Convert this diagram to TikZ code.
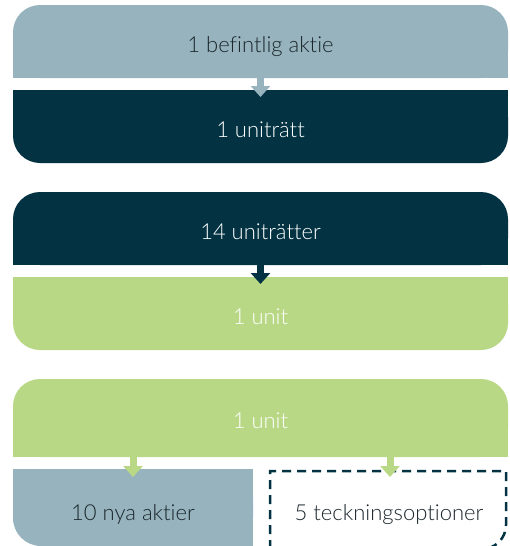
\documentclass[tikz,border=0pt]{standalone}
\usepackage{fontspec}
\IfFontExistsTF{Lato Light}{\setmainfont{Lato Light}[Ligatures=NoCommon]}{\setmainfont{Lato}[Ligatures=NoCommon]}
\usetikzlibrary{arrows.meta}
\definecolor{lb}{HTML}{97B3BE}
\definecolor{dk}{HTML}{033343}
\definecolor{gr}{HTML}{B9D885}
\definecolor{tx}{HTML}{1A262B}
\begin{document}
\begin{tikzpicture}[x=1pt,y=-1pt,
  box/.style={inner sep=0pt,outer sep=0pt,minimum height=73pt},
  lbl/.style={inner sep=0pt,anchor=base,font=\fontsize{22}{25}\selectfont},
  arr/.style={line width=7pt,-{Triangle[width=19pt,length=11pt]}},
  dashbox/.style={dk,line width=2.5pt,dash pattern=on 9pt off 6pt}]
\clip (0,0) rectangle (509,546);
% box nodes (geometry)
\node[box,minimum width=495pt] (b1) at (260.5,41.5) {};
\node[box,minimum width=495pt] (b2) at (260.5,126.5) {};
\node[box,minimum width=495pt] (b3) at (260.5,228.5) {};
\node[box,minimum width=495pt] (b4) at (260.5,313.5) {};
\node[box,minimum width=495pt,minimum height=78pt] (b5) at (260.5,418) {};
\node[box,minimum width=240pt,minimum height=77pt] (b6) at (133,507.5) {};
\node[box,minimum width=236pt,minimum height=78pt] (b7) at (388,510) {};
% fills
\fill[lb,rounded corners=27pt] (b1.north west) rectangle (b1.south east);
\fill[lb] (b1.west) rectangle (b1.south east);
\fill[dk,rounded corners=27pt] (b2.north west) rectangle (b2.south east);
\fill[dk] (b2.north west) rectangle (b2.east);
\fill[dk,rounded corners=27pt] (b3.north west) rectangle (b3.south east);
\fill[dk] (b3.west) rectangle (b3.south east);
\fill[gr,rounded corners=27pt] (b4.north west) rectangle (b4.south east);
\fill[gr] (b4.north west) rectangle (b4.east);
\fill[gr,rounded corners=27pt] (b5.north west) rectangle (b5.south east);
\fill[gr] (b5.west) rectangle (b5.south east);
\fill[lb,rounded corners=28pt] (b6.north west) rectangle (b6.south east);
\fill[lb] (b6.north west) rectangle (b6.east);
\fill[lb] (b6.north) rectangle (b6.south east);
\draw[dashbox] (b7.south west) -- (b7.north west) -- (b7.north east)
  -- ([yshift=24pt]b7.south east)
  .. controls ([yshift=10.75pt]b7.south east) and ([xshift=-10.75pt]b7.south east)
  .. ([xshift=-24pt]b7.south east) -- cycle;
% arrows
\coordinate (a4s) at (390,457);
\coordinate (a4t) at (a4s |- b7.north);
\draw[arr,lb] (b1.south) -- ([yshift=-7pt]b2.north);
\draw[arr,dk] (b3.south) -- ([yshift=-7pt]b4.north);
\draw[arr,gr] (b6.north |- b5.south) -- ([yshift=-8pt]b6.north);
\draw[arr,gr] (a4s) -- ([yshift=-6pt]a4t);
% labels
\node[lbl,tx] (t1) at (260.5,52) {1 befintlig aktie};
\node[lbl,white] (t2) at (260.5,137) {1 uniträtt};
\node[lbl,white] (t3) at (260.5,239) {14 uniträtter};
\node[lbl,white] (t4) at (260.5,324) {1 unit};
\node[lbl,white] (t5) at (260.5,428) {1 unit};
\node[lbl,tx] (t6) at (133,520) {10 nya aktier};
\node[lbl,tx] (t7) at (389,520) {5 teckningsoptioner};
\end{tikzpicture}
\end{document}
